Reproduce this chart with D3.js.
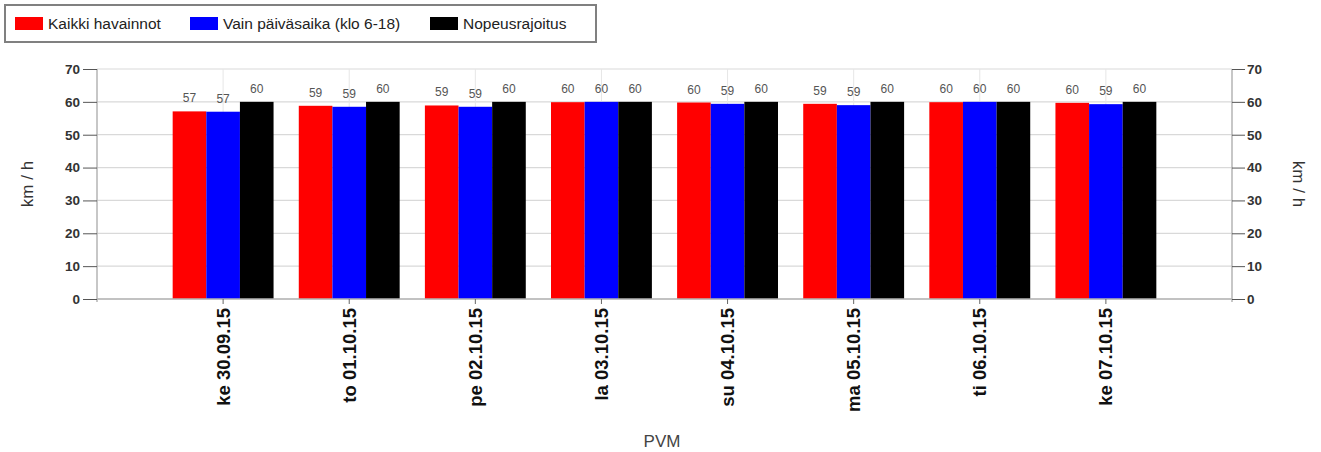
<!DOCTYPE html>
<html>
<head>
<meta charset="utf-8">
<script src="https://cdn.jsdelivr.net/npm/d3@7"></script>
<style>
  html, body { margin: 0; padding: 0; background: #fff; }
  svg { display: block; font-family: "Liberation Sans", Arial, sans-serif; }
</style>
</head>
<body>
<svg id="chart" width="1321" height="452"></svg>
<script>
const categories = ["ke 30.09.15", "to 01.10.15", "pe 02.10.15", "la 03.10.15", "su 04.10.15", "ma 05.10.15", "ti 06.10.15", "ke 07.10.15"];
const seriesNames = ["Kaikki havainnot", "Vain päiväsaika (klo 6-18)", "Nopeusrajoitus"];
const seriesColors = ["#ff0000", "#0000ff", "#000000"];
const kaikki = [57.1, 58.8, 58.9, 59.9, 59.8, 59.4, 59.9, 59.7];
const paivasaika = [57.0, 58.5, 58.5, 60.0, 59.4, 59.0, 60.0, 59.3];
const nopeusrajoitus = [60, 60, 60, 60, 60, 60, 60, 60];
const yTicks = [0, 10, 20, 30, 40, 50, 60, 70];
const yTitle = "km / h";
const xTitle = "PVM";

const series = [kaikki, paivasaika, nopeusrajoitus];
const svg = d3.select("#chart");

const mLeft = 97, mRight = 1232, mTop = 69, mBottom = 299;

const x = d3.scaleBand().domain(categories).range([mLeft, mRight]).paddingInner(0.2).paddingOuter(0.6);
const xs = d3.scaleBand().domain(d3.range(series.length)).range([0, x.bandwidth()]).padding(0);
const y = d3.scaleLinear().domain([0, 70]).range([mBottom, mTop]);

// horizontal gridlines
svg.append("g").selectAll("line").data(yTicks).join("line")
  .attr("x1", mLeft).attr("x2", mRight)
  .attr("y1", d => y(d)).attr("y2", d => y(d))
  .attr("stroke", "#d9d9d9").attr("stroke-width", 1.2);

// vertical gridlines
svg.append("g").selectAll("line").data(categories).join("line")
  .attr("x1", d => x(d) + x.bandwidth() / 2).attr("x2", d => x(d) + x.bandwidth() / 2)
  .attr("y1", mTop).attr("y2", mBottom)
  .attr("stroke", "#e6e6e6").attr("stroke-width", 1);

// bars
const groups = svg.append("g").selectAll("g").data(categories).join("g")
  .attr("transform", d => `translate(${x(d)},0)`);
groups.selectAll("rect").data((d, i) => series.map((s, k) => ({k, v: s[i]}))).join("rect")
  .attr("x", d => xs(d.k)).attr("width", xs.bandwidth())
  .attr("y", d => y(d.v)).attr("height", d => y(0) - y(d.v))
  .attr("fill", d => seriesColors[d.k]);
groups.selectAll("text").data((d, i) => series.map((s, k) => ({k, v: s[i]}))).join("text")
  .attr("x", d => xs(d.k) + xs.bandwidth() / 2)
  .attr("y", d => y(d.v) - 9)
  .attr("text-anchor", "middle")
  .attr("font-size", "12px").attr("fill", "#555")
  .text(d => Math.round(d.v));

// left axis
const yAxisL = d3.axisLeft(y).tickValues(yTicks).tickSize(14).tickPadding(3);
const gl = svg.append("g").attr("transform", `translate(${mLeft},0)`).call(yAxisL);
gl.select(".domain").attr("stroke", "#b5b5b5").attr("stroke-width", 1.5).attr("d", `M0,${mBottom + 3}H0V${mTop}`);
gl.selectAll(".tick line").attr("stroke", "#555");
gl.selectAll(".tick text").attr("font-size", "13.5px").attr("font-weight", "bold").attr("fill", "#333")
  .attr("font-family", "Liberation Sans, Arial, sans-serif");

// right axis
const yAxisR = d3.axisRight(y).tickValues(yTicks).tickSize(13).tickPadding(2);
const gr = svg.append("g").attr("transform", `translate(${mRight},0)`).call(yAxisR);
gr.select(".domain").attr("stroke", "#b5b5b5").attr("stroke-width", 1.5).attr("d", `M0,${mBottom + 3}H0V${mTop}`);
gr.selectAll(".tick line").attr("stroke", "#555");
gr.selectAll(".tick text").attr("font-size", "13.5px").attr("font-weight", "bold").attr("fill", "#333")
  .attr("font-family", "Liberation Sans, Arial, sans-serif");

// bottom axis
const xAxis = d3.axisBottom(x).tickSize(5).tickPadding(4);
const gb = svg.append("g").attr("transform", `translate(0,${mBottom})`).call(xAxis);
gb.select(".domain").attr("stroke", "#b5b5b5").attr("stroke-width", 1.5).attr("d", `M${mLeft},0H${mRight}`);
gb.selectAll(".tick line").attr("stroke", "#666");
gb.selectAll(".tick text")
  .attr("font-size", "18.5px").attr("font-weight", "bold").attr("fill", "#111")
  .attr("font-family", "Liberation Sans, Arial, sans-serif")
  .attr("text-anchor", "end")
  .attr("transform", "rotate(-90)")
  .attr("x", -9).attr("y", 0).attr("dy", "0.35em");

// axis titles
svg.append("text").attr("transform", `translate(33,184) rotate(-90)`)
  .attr("text-anchor", "middle").attr("font-size", "17px").attr("fill", "#333").text(yTitle);
svg.append("text").attr("transform", `translate(1293,184) rotate(90)`)
  .attr("text-anchor", "middle").attr("font-size", "17px").attr("fill", "#333").text(yTitle);
svg.append("text").attr("x", 662).attr("y", 447)
  .attr("text-anchor", "middle").attr("font-size", "17px").attr("fill", "#444").text(xTitle);

// legend
const lg = svg.append("g");
lg.append("rect").attr("x", 5).attr("y", 5).attr("width", 591).attr("height", 37)
  .attr("fill", "#fff").attr("stroke", "#808080").attr("stroke-width", 2);
const legX = [15, 190, 430];
const li = lg.selectAll("g.item").data(seriesNames).join("g").attr("class", "item")
  .attr("transform", (d, i) => `translate(${legX[i]},17)`);
li.append("rect").attr("width", 28).attr("height", 13).attr("fill", (d, i) => seriesColors[i]);
li.append("text").attr("x", 33).attr("y", 12).attr("font-size", "15.5px").attr("fill", "#222").text(d => d);
</script>
</body>
</html>
